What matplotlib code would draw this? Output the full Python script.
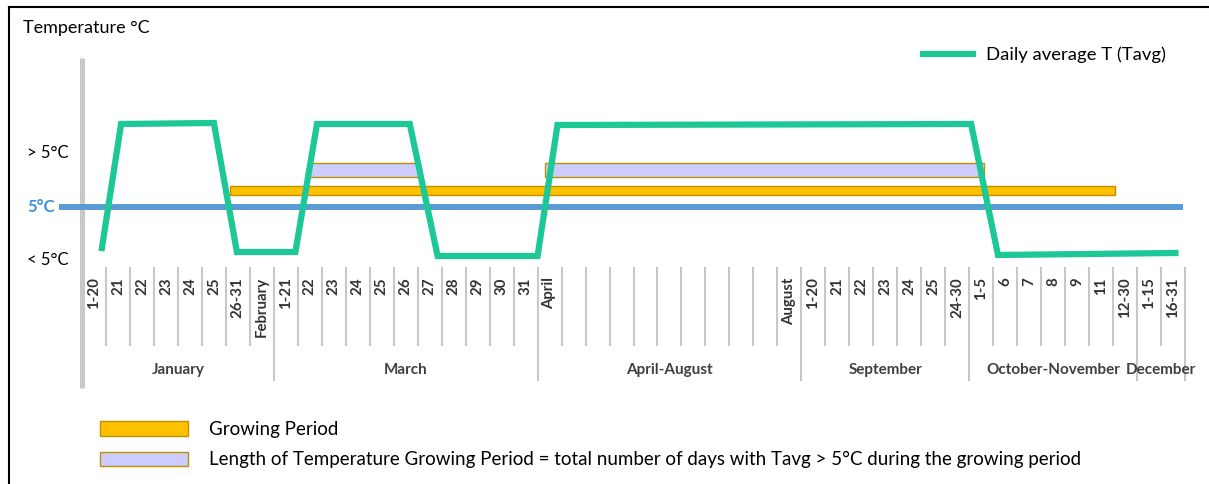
import matplotlib
matplotlib.use('Agg')
import matplotlib.pyplot as plt
from matplotlib.patches import Patch
from matplotlib.lines import Line2D
from matplotlib.transforms import blended_transform_factory

plt.rcParams['font.family'] = ['Lato', 'DejaVu Sans']

# x axis: one slot per period
tick_labels = ['1-20', '21', '22', '23', '24', '25', '26-31', 'February',
               '1-21', '22', '23', '24', '25', '26', '27', '28', '29', '30', '31',
               'April', '', '', '', '', '', '', '', '', '', 'August',
               '1-20', '21', '22', '23', '24', '25', '24-30',
               '1-5', '6', '7', '8', '9', '11', '12-30',
               '1-15', '16-31']
groups = ['January', 'March', 'April-August', 'September', 'October-November', 'December']
group_edges = [0, 8, 19, 30, 37, 44, 46]

# daily average temperature (schematic)
tavg_x = [0.83, 1.63, 5.5, 6.46, 8.9, 9.8, 13.67, 14.83, 19.0, 19.83, 37.08, 38.2, 45.6]
tavg_y = [2.95, 9.15, 9.2, 2.75, 2.75, 9.15, 9.15, 2.55, 2.55, 9.1, 9.15, 2.6, 2.7]

threshold = 5
growing_period = (6.17, 43.1)
temp_growing = [(9.42, 14.1), (19.33, 37.6)]

green = '#1dc896'
orange = '#ffc000'
edge = '#bf9000'
lavender = '#ccccff'
blue = '#5b9bd5'
grey = '#c8c8c8'

W, H = 1209, 484
fig = plt.figure(figsize=(12.09, 4.84), dpi=100)
ax = fig.add_axes([82 / W, (H - 262) / H, (1185 - 82) / W, 204 / H])
ax.set_xlim(0, 46)
ax.set_ylim(2.25, 12.45)
for s in ax.spines.values():
    s.set_visible(False)
ax.set_yticks([])

# bars
ax.barh(5.6, growing_period[1] - growing_period[0], left=growing_period[0],
        height=0.45, color=orange, edgecolor=edge, linewidth=1, align='edge', zorder=2)
for a, b in temp_growing:
    ax.barh(6.5, b - a, left=a, height=0.7, color=lavender, edgecolor=edge,
            linewidth=1, align='edge', zorder=2)

# 5 degree line
ax.plot([-0.96, 45.9], [threshold, threshold], color=blue, lw=4.3, clip_on=False,
        solid_capstyle='butt', zorder=3)

ax.plot(tavg_x, tavg_y, color=green, lw=4.5, zorder=4, solid_joinstyle='miter')

# x ticks
centers = [i + 0.5 for i in range(len(tick_labels))]
ax.set_xticks(centers, tick_labels, rotation=90, fontweight='bold', fontsize=10.8,
              color='#333333')
ax.tick_params(axis='x', length=0, pad=11)

trans = blended_transform_factory(ax.transData, ax.transAxes)
for i in range(1, 47):
    bottom = -0.578 if i in group_edges else -0.407
    ax.plot([i, i], [-0.03, bottom], color=grey, lw=1.5, transform=trans,
            clip_on=False, zorder=1)
for g, a, b in zip(groups, group_edges[:-1], group_edges[1:]):
    ax.text((a + b) / 2, -0.53, g, transform=trans, ha='center', va='center',
            fontweight='bold', fontsize=11, color='#404040')

# y axis line
ax.plot([0, 0], [1.0, -0.618], color=grey, lw=3.6, transform=trans, clip_on=False,
        solid_capstyle='butt', zorder=1)

# y labels
ytrans = blended_transform_factory(fig.transFigure, ax.transData)
ax.text(27 / W, 7.7, '> 5°C', transform=ytrans, va='center', fontsize=12)
ax.text(27 / W, 2.35, '< 5°C', transform=ytrans, va='center', fontsize=12)
ax.text(27 / W, threshold, '5°C', transform=ytrans, va='center', fontsize=12,
        color='#3a8fdc', fontweight='bold')
fig.text(23 / W, 1 - 28 / H, 'Temperature °C', va='center', fontsize=13)

# legends
fig.legend(handles=[Line2D([], [], color=green, lw=4.5)],
           labels=['Daily average T (Tavg)'], loc='center left',
           bbox_to_anchor=(906 / W, 1 - 55 / H), frameon=False, fontsize=13.3,
           handlelength=2.75, handletextpad=0.7)
fig.legend(handles=[Patch(facecolor=orange, edgecolor=edge),
                    Patch(facecolor=lavender, edgecolor=edge)],
           labels=['Growing Period',
                   'Length of Temperature Growing Period = total number of days '
                   'with Tavg > 5°C during the growing period'],
           loc='upper left', bbox_to_anchor=(83 / W, 1 - 404 / H), frameon=False,
           fontsize=13.5, handlelength=4.7, handleheight=0.8, handletextpad=1.12,
           labelspacing=0.72)

# frame on left and top
fig.add_artist(Line2D([9 / W, 9 / W], [0, 1 - 7 / H], color='black', lw=1.5))
fig.add_artist(Line2D([9 / W, 1], [1 - 7 / H, 1 - 7 / H], color='black', lw=1.5))

fig.savefig('out.png', dpi=100)
